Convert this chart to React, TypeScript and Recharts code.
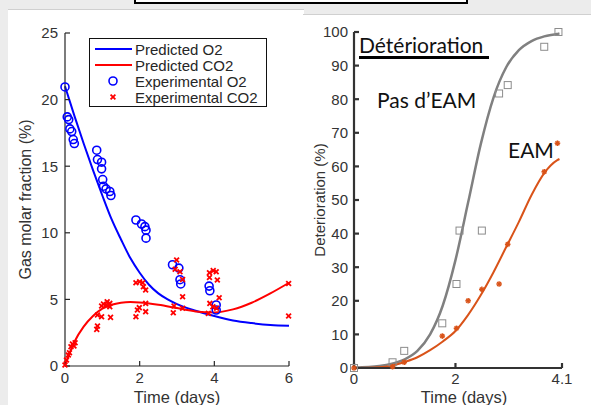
import { ComposedChart, Label, Line, Scatter, XAxis, YAxis } from 'recharts'

// left panel: gas composition (%), time in days
const o2Measured: Array<[number, number]> = [
  [0, 20.95], [0.06, 18.7], [0.1, 18.5], [0.13, 17.8], [0.18, 17.6], [0.22, 17.0], [0.25, 16.7],
  [0.85, 16.2], [0.87, 15.5], [0.98, 15.3], [0.98, 14.8], [1.01, 14.0], [1.03, 13.5], [1.1, 13.3],
  [1.2, 13.1], [1.23, 12.8], [1.9, 10.96], [2.05, 10.66], [2.14, 10.46], [2.17, 10.2], [2.17, 9.6],
  [2.88, 7.6], [3.05, 7.35], [3.08, 6.48], [3.1, 6.16], [3.86, 6.0], [3.88, 5.65], [4.05, 4.58], [4.05, 4.2],
]

const co2Measured: Array<[number, number]> = [
  [0, 0.08], [0.04, 0.45], [0.09, 0.83], [0.12, 1.0], [0.16, 1.45], [0.2, 1.65], [0.24, 1.5], [0.27, 1.75],
  [0.85, 2.75], [0.87, 3.0], [0.87, 3.83], [0.98, 3.7], [0.98, 4.5], [1.03, 4.65], [1.1, 4.58], [1.13, 4.83],
  [1.2, 4.7], [1.2, 4.45], [1.22, 3.65], [1.9, 3.7], [1.94, 4.2], [1.99, 4.38], [1.9, 6.25], [2.0, 6.33],
  [2.08, 6.25], [2.1, 5.95], [2.16, 5.7], [2.16, 4.7], [2.16, 4.08], [2.9, 4.0], [2.92, 4.5], [2.99, 7.96],
  [2.95, 7.26], [3.08, 7.08], [3.15, 6.5], [3.15, 5.2], [3.15, 4.33], [3.84, 3.95], [3.87, 7.0], [3.87, 6.65],
  [3.88, 4.7], [3.96, 4.45], [3.97, 7.16], [4.05, 7.08], [4.08, 6.46], [4.13, 5.13], [4.06, 4.33],
  [5.99, 6.2], [5.99, 3.75],
]

const o2Model: Array<[number, number]> = [
  [0, 21.0], [0.25, 18.8], [0.5, 16.7], [0.75, 14.7], [1.0, 12.8], [1.25, 11.0], [1.5, 9.5], [1.75, 8.1],
  [2.0, 7.0], [2.25, 6.1], [2.5, 5.45], [2.75, 5.0], [3.0, 4.65], [3.5, 4.15], [4.0, 3.75], [4.5, 3.42],
  [5.0, 3.22], [5.5, 3.08], [6.0, 3.03],
]

const co2Model: Array<[number, number]> = [
  [0, 0], [0.1, 0.8], [0.25, 1.8], [0.5, 2.95], [0.75, 3.75], [1.0, 4.3], [1.25, 4.6], [1.5, 4.75],
  [1.75, 4.8], [2.0, 4.77], [2.5, 4.6], [3.0, 4.35], [3.5, 4.1], [4.0, 4.02], [4.5, 4.25], [5.0, 4.75],
  [5.5, 5.45], [6.0, 6.25],
]

// right panel: deterioration (%)
const noEamMeasured: Array<[number, number]> = [
  [0, 0], [0.76, 1.7], [0.99, 5.1], [1.74, 13.3], [2.02, 25.0], [2.08, 40.9], [2.52, 40.9],
  [2.86, 81.7], [3.03, 84.2], [3.75, 95.6], [4.03, 100],
]

const eamMeasured: Array<[number, number]> = [
  [0, 0], [0.76, 0.4], [0.99, 1.7], [1.74, 9.5], [2.02, 11.8], [2.25, 20.0], [2.52, 23.4],
  [2.86, 25.0], [3.03, 36.8], [3.75, 58.4], [4.01, 66.9],
]

const noEamModel: Array<[number, number]> = [
  [0, 0.1], [0.5, 0.6], [0.75, 1.3], [1.0, 2.6], [1.25, 5.1], [1.5, 10.0], [1.75, 18.6], [2.0, 32.1],
  [2.25, 49.3], [2.5, 66.7], [2.75, 80.5], [3.0, 89.5], [3.25, 94.6], [3.5, 97.3], [3.75, 98.7],
  [4.0, 99.4], [4.05, 99.6],
]

const eamModel: Array<[number, number]> = [
  [0, 0], [0.5, 0.2], [0.75, 0.7], [1.0, 1.8], [1.25, 3.2], [1.5, 5.3], [1.75, 7.9], [2.0, 11.0],
  [2.25, 15.8], [2.5, 21.7], [2.75, 28.5], [3.0, 36.0], [3.25, 43.5], [3.5, 51.5], [3.75, 58.0],
  [4.0, 61.8], [4.05, 62.2],
]

const gasTicksY = [0, 5, 10, 15, 20, 25]
const gasTicksX = [0, 2, 4, 6]
const detTicksY = [0, 10, 20, 30, 40, 50, 60, 70, 80, 90, 100]
const detTicksX = [0, 2, 4.1]

const legendRows = ['Predicted O2', 'Predicted CO2', 'Experimental O2', 'Experimental CO2']

const toPts = (rows: Array<[number, number]>) => rows.map(([t, v]) => ({ t, v }))

const BLUE = '#0000ff'
const RED = '#ff0000'
const GRAY = '#808080'
const ORANGE = '#d95319'
const FONT = '"Liberation Sans", Arial, sans-serif'
const tickStyle = { fill: '#333', fontSize: 15, fontFamily: FONT }

const OpenCircle = (p: any) => (
  <circle cx={p.cx} cy={p.cy} r={4} fill="none" stroke={BLUE} strokeWidth={1.6} />
)

const Cross = (p: any) => {
  const s = 2.4
  return (
    <g stroke={RED} strokeWidth={1.8}>
      <line x1={p.cx - s} y1={p.cy - s} x2={p.cx + s} y2={p.cy + s} />
      <line x1={p.cx - s} y1={p.cy + s} x2={p.cx + s} y2={p.cy - s} />
    </g>
  )
}

const Square = (p: any) => (
  <rect x={p.cx - 3.5} y={p.cy - 3.5} width={7} height={7} fill="none" stroke="#8c8c8c" strokeWidth={1} />
)

const Star = (p: any) => {
  const s = 2.8
  return (
    <g stroke={ORANGE} strokeWidth={1.5}>
      <line x1={p.cx - s} y1={p.cy} x2={p.cx + s} y2={p.cy} />
      <line x1={p.cx} y1={p.cy - s} x2={p.cx} y2={p.cy + s} />
      <line x1={p.cx - s * 0.7} y1={p.cy - s * 0.7} x2={p.cx + s * 0.7} y2={p.cy + s * 0.7} />
      <line x1={p.cx - s * 0.7} y1={p.cy + s * 0.7} x2={p.cx + s * 0.7} y2={p.cy - s * 0.7} />
    </g>
  )
}

function GasChart() {
  const axis = { stroke: '#262626', strokeWidth: 1.2 }
  return (
    <ComposedChart width={300} height={405} margin={{ top: 33, right: 11, bottom: 0, left: 0 }}>
      <XAxis xAxisId="b" type="number" dataKey="t" domain={[0, 6]} ticks={gasTicksX} interval={0}
        height={39} tickSize={-5} tickMargin={11} tick={tickStyle} axisLine={axis} tickLine={axis}>
        <Label value="Time (days)" position="insideBottom" offset={2}
          style={{ fontSize: 16.5, fontFamily: FONT, fill: '#333' }} />
      </XAxis>
      <XAxis xAxisId="top" orientation="top" type="number" dataKey="t" domain={[0, 6]} ticks={gasTicksX}
        interval={0} height={0} tickSize={-5} tick={false} axisLine={axis} tickLine={axis} />
      <YAxis yAxisId="l" type="number" dataKey="v" domain={[0, 25]} ticks={gasTicksY} interval={0}
        width={65} tickSize={-5} tickMargin={12} tick={tickStyle} axisLine={axis} tickLine={axis}>
        <Label value="Gas molar fraction (%)" angle={-90} position="insideLeft" offset={25}
          style={{ fontSize: 16, fontFamily: FONT, fill: '#333', textAnchor: 'middle' }} />
      </YAxis>
      <YAxis yAxisId="r" orientation="right" type="number" dataKey="v" domain={[0, 25]} ticks={gasTicksY}
        interval={0} width={0} tickSize={-5} tick={false} axisLine={axis} tickLine={axis} />
      <Line data={toPts(o2Model)} xAxisId="top" yAxisId="r" dataKey="v" stroke="none" dot={false}
        isAnimationActive={false} />
      <Line data={toPts(o2Model)} xAxisId="b" yAxisId="l" dataKey="v" type="monotone" stroke={BLUE}
        strokeWidth={2} dot={false} isAnimationActive={false} />
      <Line data={toPts(co2Model)} xAxisId="b" yAxisId="l" dataKey="v" type="monotone" stroke={RED}
        strokeWidth={2} dot={false} isAnimationActive={false} />
      <Scatter data={toPts(o2Measured)} xAxisId="b" yAxisId="l" dataKey="v" shape={OpenCircle}
        isAnimationActive={false} />
      <Scatter data={toPts(co2Measured)} xAxisId="b" yAxisId="l" dataKey="v" shape={Cross}
        isAnimationActive={false} />
    </ComposedChart>
  )
}

function DeteriorationChart() {
  const axis = { stroke: '#333', strokeWidth: 2.2 }
  return (
    <ComposedChart width={291} height={405} margin={{ top: 32, right: 29, bottom: 0, left: 0 }}>
      <XAxis xAxisId="b" type="number" dataKey="t" domain={[0, 4.1]} ticks={detTicksX} interval={0}
        height={37} tickSize={-5} tickMargin={10} tick={tickStyle} axisLine={axis} tickLine={axis}>
        <Label value="Time (days)" position="insideBottom" offset={2} dx={6}
          style={{ fontSize: 16.5, fontFamily: FONT, fill: '#333' }} />
      </XAxis>
      <XAxis xAxisId="top" orientation="top" type="number" dataKey="t" domain={[0, 4.1]} ticks={detTicksX}
        interval={0} height={0} tickSize={-5} tick={false} axisLine={axis} tickLine={axis} />
      <YAxis yAxisId="l" type="number" dataKey="v" domain={[0, 100]} ticks={detTicksY} interval={0}
        width={54} tickSize={-5} tickMargin={11} tick={tickStyle} axisLine={axis} tickLine={axis}>
        <Label value="Deterioration (%)" angle={-90} position="insideLeft" offset={12} dx={8}
          style={{ fontSize: 15, fontFamily: FONT, fill: '#333', textAnchor: 'middle' }} />
      </YAxis>
      <YAxis yAxisId="r" orientation="right" type="number" dataKey="v" domain={[0, 100]} ticks={detTicksY}
        interval={0} width={0} tickSize={-5} tick={false} axisLine={axis} tickLine={axis} />
      <Line data={toPts(noEamModel)} xAxisId="top" yAxisId="r" dataKey="v" stroke="none" dot={false}
        isAnimationActive={false} />
      <Line data={toPts(noEamModel)} xAxisId="b" yAxisId="l" dataKey="v" type="monotone" stroke={GRAY}
        strokeWidth={2.5} dot={false} isAnimationActive={false} />
      <Line data={toPts(eamModel)} xAxisId="b" yAxisId="l" dataKey="v" type="monotone" stroke={ORANGE}
        strokeWidth={2} dot={false} isAnimationActive={false} />
      <Scatter data={toPts(noEamMeasured)} xAxisId="b" yAxisId="l" dataKey="v" shape={Square}
        isAnimationActive={false} />
      <Scatter data={toPts(eamMeasured)} xAxisId="b" yAxisId="l" dataKey="v" shape={Star}
        isAnimationActive={false} />
    </ComposedChart>
  )
}

const LegendBox = () => (
  <div style={{
    position: 'absolute', left: 89, top: 38, width: 176, height: 67, border: '1.5px solid #111',
    background: '#fff',
  }}>
    <svg width={176} height={67} style={{ position: 'absolute', left: 0, top: 0 }}>
      <line x1={5} x2={42} y1={10} y2={10} stroke={BLUE} strokeWidth={2} />
      <line x1={5} x2={42} y1={26} y2={26} stroke={RED} strokeWidth={2} />
      <OpenCircle cx={23} cy={42} />
      <Cross cx={23} cy={58} />
      {legendRows.map((label, i) => (
        <text key={label} x={45} y={15.5 + i * 16} fontSize={15} fontFamily={FONT} fill="#262626">{label}</text>
      ))}
    </svg>
  </div>
)

const Annotations = () => {
  const calibri = { position: 'absolute' as const, fontFamily: 'Lato, "Open Sans", sans-serif', fontSize: 21, color: '#111', lineHeight: 1 }
  return (
    <>
      <div style={{ ...calibri, left: 359, top: 34 }}>Détérioration</div>
      <div style={{ position: 'absolute', left: 359, top: 56, width: 130, height: 3, background: '#000' }} />
      <div style={{ ...calibri, left: 377, top: 89 }}>Pas d’EAM</div>
      <div style={{ ...calibri, left: 508, top: 139 }}>EAM</div>
    </>
  )
}

export default function App() {
  return (
    <div style={{ position: 'absolute', left: 0, top: 0, width: 591, height: 405, background: '#ececec', overflow: 'hidden' }}>
      <div style={{ position: 'absolute', left: 134, top: -20, width: 330, height: 20, border: '2px solid #000', background: '#fff' }} />
      <div style={{ position: 'absolute', left: 8, top: 9, width: 296, height: 396, background: '#fff', borderTop: '1px solid #d0d0d0' }} />
      <div style={{ position: 'absolute', left: 303, top: 14, width: 288, height: 391, background: '#fff', borderTop: '1px solid #d0d0d0' }} />
      <div style={{ position: 'absolute', left: 0, top: 0 }}>
        <GasChart />
      </div>
      <div style={{ position: 'absolute', left: 300, top: 0 }}>
        <DeteriorationChart />
      </div>
      <LegendBox />
      <Annotations />
    </div>
  )
}
